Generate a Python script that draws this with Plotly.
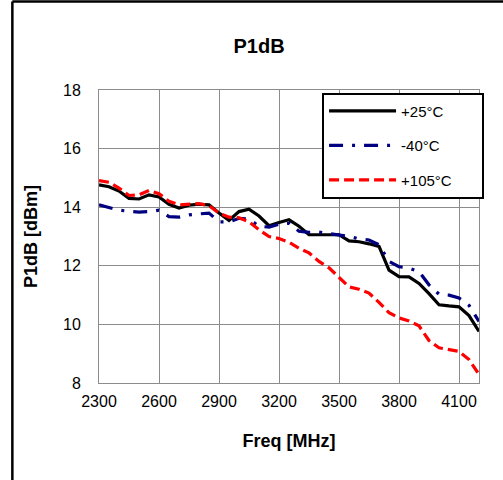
import plotly.graph_objects as go

# Frequency sweep (MHz)
freq = list(range(2300, 4201, 50))

# P1dB (dBm) at each temperature
p1db_25c = [14.76, 14.70, 14.55, 14.30, 14.28, 14.42, 14.35, 14.10, 13.97, 14.07,
            14.10, 14.08, 13.80, 13.55, 13.85, 13.93, 13.70, 13.37, 13.48, 13.57,
            13.35, 13.06, 13.06, 13.06, 13.06, 12.85, 12.82, 12.75, 12.66, 11.85,
            11.63, 11.62, 11.40, 11.05, 10.67, 10.63, 10.60, 10.30, 9.76]
p1db_m40c = [14.08, 13.98, 13.90, 13.86, 13.83, 13.85, 13.90, 13.68, 13.66, 13.74,
             13.78, 13.80, 13.50, 13.50, 13.62, 13.60, 13.35, 13.32, 13.42, 13.45,
             13.18, 13.14, 13.15, 13.10, 13.03, 13.00, 12.92, 12.88, 12.72, 12.15,
             11.97, 11.92, 11.80, 11.35, 11.03, 11.00, 10.90, 10.65, 10.10]
p1db_105c = [14.91, 14.85, 14.65, 14.40, 14.42, 14.57, 14.46, 14.20, 14.08, 14.10,
             14.12, 14.05, 13.80, 13.66, 13.64, 13.50, 13.23, 13.00, 12.93, 12.80,
             12.60, 12.44, 12.15, 11.93, 11.60, 11.28, 11.20, 11.07, 10.75, 10.40,
             10.22, 10.12, 9.95, 9.45, 9.20, 9.13, 9.08, 8.80, 8.29]

series_names = ["+25°C", "-40°C", "+105°C"]
x_ticks = [2300, 2600, 2900, 3200, 3500, 3800, 4100]
y_ticks = [8, 10, 12, 14, 16, 18]

FONT = "Liberation Sans, Arial, sans-serif"
pad = "\u00a0" * 6

fig = go.Figure()
fig.add_trace(go.Scatter(x=freq, y=p1db_25c, mode="lines", name=series_names[0] + pad,
                         legendgroup="a", line=dict(color="#000000", width=3.2)))
fig.add_trace(go.Scatter(x=freq, y=p1db_m40c, mode="lines", name=series_names[1] + pad,
                         legendgroup="b",
                         line=dict(color="#000080", width=3.2, dash="14px,9px,3px,9px")))
fig.add_trace(go.Scatter(x=freq, y=p1db_105c, mode="lines", name=series_names[2] + pad,
                         legendgroup="c",
                         line=dict(color="#FF0000", width=3.2, dash="10px,5px")))

axis_common = dict(
    showgrid=True, gridcolor="#8c8c8c", gridwidth=1,
    showline=True, linecolor="#8c8c8c", linewidth=1, mirror=True,
    zeroline=False, ticks="", tickfont=dict(family=FONT, size=16, color="#000"),
)

fig.update_xaxes(range=[2300, 4200], tickvals=x_ticks, ticklabelstandoff=4,
                 title=dict(text="<b>Freq [MHz]</b>", font=dict(family=FONT, size=18, color="#000"),
                            standoff=25),
                 **axis_common)
fig.update_yaxes(range=[8, 18], tickvals=y_ticks, ticklabelstandoff=14,
                 title=dict(text="<b>P1dB [dBm]</b>", font=dict(family=FONT, size=18, color="#000"),
                            standoff=20),
                 **axis_common)

# Outer chart frame (left and top edges)
fig.add_shape(type="line", xref="paper", yref="paper", x0=-0.228, x1=1.3, y0=1.302, y1=1.302,
              line=dict(color="#000", width=2.5))
fig.add_shape(type="line", xref="paper", yref="paper", x0=-0.228, x1=-0.228, y0=-0.5, y1=1.302,
              line=dict(color="#000", width=2.5))

fig.update_layout(
    width=503, height=480,
    margin=dict(l=99, r=24, t=90, b=97),
    paper_bgcolor="#ffffff", plot_bgcolor="#ffffff",
    title=dict(text="<b>P1dB</b>", x=0.515, xref="container", xanchor="center",
               y=0.904, yref="container", yanchor="middle",
               font=dict(family=FONT, size=20, color="#000")),
    showlegend=True,
    legend=dict(x=0.587, y=0.991, xanchor="left", yanchor="top",
                bgcolor="#ffffff", bordercolor="#000", borderwidth=2,
                font=dict(family=FONT, size=15, color="#000"),
                tracegroupgap=12, itemwidth=67),
)

fig.write_html("out.html")
